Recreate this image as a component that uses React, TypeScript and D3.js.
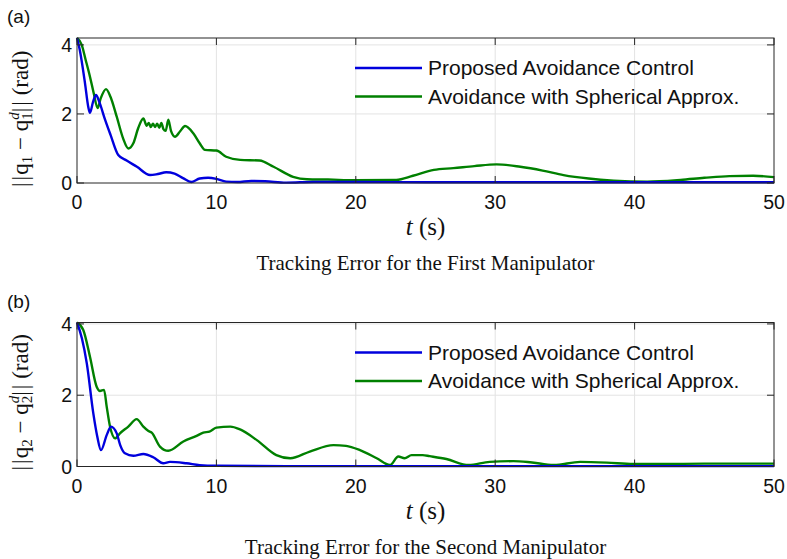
import React from 'react';
import * as d3 from 'd3';

// time axis and value ticks
const xTicks = [0, 10, 20, 30, 40, 50];
const yTicks = [0, 2, 4];
const legendLabels = ['Proposed Avoidance Control', 'Avoidance with Spherical Approx.'];

// (a) first manipulator: [t, error]
const firstProposed: [number, number][] = [
  [0, 4.2], [0.2, 3.85], [0.57, 2.9], [0.81, 2.2], [0.93, 2.03], [1.15, 2.35], [1.36, 2.55], [1.6, 2.35],
  [2.0, 1.85], [2.4, 1.4], [2.96, 0.81], [3.56, 0.65], [4.3, 0.47], [5.24, 0.23], [5.8, 0.26], [6.4, 0.31],
  [7.0, 0.27], [7.6, 0.14], [8.2, 0.03], [8.8, 0.13], [9.4, 0.15], [10.0, 0.12], [10.7, 0.04], [11.5, 0.03],
  [12.5, 0.06], [13.5, 0.05], [15, 0.01], [17, 0.03], [20, 0.03], [25, 0.02], [30, 0.02], [35, 0.02],
  [40, 0.02], [45, 0.02], [50, 0.02],
];
const firstSpherical: [number, number][] = [
  [0, 4.2], [0.34, 4.0], [0.6, 3.6], [0.93, 3.08], [1.2, 2.6], [1.48, 2.17], [1.7, 2.45], [2.08, 2.72],
  [2.4, 2.5], [2.85, 1.92], [3.3, 1.3], [3.68, 1.0], [4.04, 1.15], [4.4, 1.6], [4.76, 1.87], [5.0, 1.66],
  [5.15, 1.74], [5.3, 1.62], [5.45, 1.72], [5.6, 1.62], [5.75, 1.72], [5.9, 1.6], [6.05, 1.74], [6.2, 1.56],
  [6.36, 1.51], [6.55, 1.83], [6.75, 1.5], [7.03, 1.34], [7.4, 1.5], [7.75, 1.65], [8.34, 1.44], [8.8, 1.15],
  [9.18, 0.96], [10.0, 0.94], [10.7, 0.76], [11.7, 0.67], [13.1, 0.65], [14.1, 0.47], [15.5, 0.18],
  [16.5, 0.11], [18, 0.1], [20, 0.08], [22.9, 0.09], [24.1, 0.21], [25.6, 0.38], [27, 0.43], [28.5, 0.49],
  [30.1, 0.54], [31.8, 0.47], [33.4, 0.36], [34.9, 0.23], [36.7, 0.13], [38.5, 0.07], [40.9, 0.04],
  [43.3, 0.09], [45, 0.15], [46.8, 0.2], [48.5, 0.21], [50, 0.17],
];

// (b) second manipulator
const secondProposed: [number, number][] = [
  [0, 4.04], [0.35, 3.6], [0.7, 2.9], [1.17, 1.49], [1.45, 0.85], [1.72, 0.46], [2.13, 0.88], [2.44, 1.12],
  [2.85, 0.93], [3.1, 0.6], [3.44, 0.37], [4.04, 0.3], [4.76, 0.35], [5.47, 0.26], [6.19, 0.09], [6.67, 0.13],
  [7.86, 0.09], [8.8, 0.04], [10, 0.02], [15, 0.01], [20, 0.01], [30, 0.01], [40, 0.01], [50, 0.01],
];
const secondSpherical: [number, number][] = [
  [0, 4.04], [0.45, 3.83], [0.93, 3.08], [1.41, 2.24], [1.65, 2.12], [1.94, 2.15], [2.13, 1.68], [2.37, 1.12],
  [2.73, 0.79], [3.08, 0.93], [3.68, 1.12], [4.28, 1.33], [4.76, 1.12], [5.1, 1.0], [5.36, 0.95], [5.95, 0.56],
  [6.55, 0.44], [7.63, 0.7], [8.58, 0.86], [9.06, 0.95], [9.5, 0.98], [10, 1.09], [11, 1.12], [11.7, 1.04],
  [12.9, 0.74], [14.3, 0.32], [15.3, 0.23], [16.7, 0.42], [18.4, 0.6], [19.3, 0.58], [20.3, 0.46], [21.5, 0.23],
  [22.45, 0.04], [23.05, 0.28], [23.5, 0.23], [24.0, 0.32], [24.8, 0.32], [25.3, 0.29], [26.5, 0.21],
  [28.1, 0.04], [29.6, 0.13], [31.3, 0.15], [32.5, 0.12], [34.2, 0.04], [36.1, 0.13], [38, 0.11],
  [39.9, 0.07], [42, 0.07], [45, 0.08], [48, 0.08], [50, 0.08],
];

const width = 787;
const height = 559;
const left = 77;
const right = 774;
const blue = '#0000dd';
const green = '#008000';
const axisCol = '#262626';
const sans = '"Liberation Sans", Arial, Helvetica, sans-serif';
const serif = '"Liberation Serif", "Times New Roman", serif';

type PanelProps = {
  top: number;
  bottom: number;
  yMax: number;
  tag: string;
  idx: string;
  title: string;
  proposed: [number, number][];
  spherical: [number, number][];
};

const Panel = ({ top, bottom, yMax, tag, idx, title, proposed, spherical }: PanelProps) => {
  const x = d3.scaleLinear().domain([0, 50]).range([left, right]);
  const y = d3.scaleLinear().domain([0, yMax]).range([bottom, top]);
  const line = d3.line<[number, number]>()
    .x((d) => x(d[0]))
    .y((d) => y(d[1]))
    .curve(d3.curveMonotoneX);
  const tick = 7;

  return (
    <g>
      {/* grid */}
      {xTicks.slice(1, -1).map((t) => (
        <line key={'gx' + t} x1={x(t)} x2={x(t)} y1={top} y2={bottom} stroke="#e3e3e3" strokeWidth={1} />
      ))}
      {yTicks.filter((t) => t > 0).map((t) => (
        <line key={'gy' + t} x1={left} x2={right} y1={y(t)} y2={y(t)} stroke="#e3e3e3" strokeWidth={1} />
      ))}

      <path d={line(spherical) || ''} fill="none" stroke={green} strokeWidth={2.4} />
      <path d={line(proposed) || ''} fill="none" stroke={blue} strokeWidth={2.4} />

      {/* box and ticks */}
      <rect x={left} y={top} width={right - left} height={bottom - top} fill="none" stroke={axisCol} strokeWidth={1} />
      {xTicks.map((t) => (
        <g key={'tx' + t}>
          <line x1={x(t)} x2={x(t)} y1={bottom} y2={bottom - tick} stroke={axisCol} />
          <line x1={x(t)} x2={x(t)} y1={top} y2={top + tick} stroke={axisCol} />
          <text x={x(t)} y={bottom + 26} textAnchor="middle" fontFamily={sans} fontSize={19.5} fill="#111">{t}</text>
        </g>
      ))}
      {yTicks.map((t) => (
        <g key={'ty' + t}>
          <line x1={left} x2={left + tick} y1={y(t)} y2={y(t)} stroke={axisCol} />
          <line x1={right} x2={right - tick} y1={y(t)} y2={y(t)} stroke={axisCol} />
          <text x={72} y={y(t) + 7} textAnchor="end" fontFamily={sans} fontSize={19.5} fill="#111">{t}</text>
        </g>
      ))}

      {/* legend */}
      {legendLabels.map((lab, i) => {
        const ly = top + 30 + i * 28.5;
        return (
          <g key={lab}>
            <line x1={355} x2={422} y1={ly} y2={ly} stroke={i === 0 ? blue : green} strokeWidth={2.4} />
            <text x={428} y={ly + 7} fontFamily={sans} fontSize={21} fill="#111">{lab}</text>
          </g>
        );
      })}

      {/* y label */}
      <text transform={`translate(28,${bottom + 4}) rotate(-90)`} textAnchor="start" fontFamily={serif} fontSize={23} fill="#111">
        <tspan>|</tspan>
        <tspan dx={2}>|</tspan>
        <tspan dx={1}>q</tspan>
        <tspan fontSize={15} dy={4}>{idx}</tspan>
        <tspan dy={-4}>{' − q'}</tspan>
        <tspan fontSize={15} dy={4}>{idx}</tspan>
        <tspan fontSize={15} fontStyle="italic" dx={-7.5} dy={-13}>d</tspan>
        <tspan dy={9}>|</tspan>
        <tspan dx={2}>|</tspan>
        <tspan>{' (rad)'}</tspan>
      </text>

      {/* x label */}
      <text x={(left + right) / 2} y={bottom + 52} textAnchor="middle" fontFamily={serif} fontSize={25} fill="#111">
        <tspan fontStyle="italic">t</tspan>
        <tspan>{' (s)'}</tspan>
      </text>

      <text x={(left + right) / 2} y={bottom + 87} textAnchor="middle" fontFamily={serif} fontSize={21} fill="#111">{title}</text>

      <text x={7} y={top - 15} fontFamily={sans} fontSize={19} fill="#111">{tag}</text>
    </g>
  );
};

export default function App() {
  return (
    <svg width={width} height={height} style={{ position: 'absolute', left: 0, top: 0, background: '#fff' }}>
      <Panel top={38} bottom={183} yMax={4.2} tag="(a)" idx="1" title="Tracking Error for the First Manipulator"
        proposed={firstProposed} spherical={firstSpherical} />
      <Panel top={322.5} bottom={466.5} yMax={4.04} tag="(b)" idx="2" title="Tracking Error for the Second Manipulator"
        proposed={secondProposed} spherical={secondSpherical} />
    </svg>
  );
}
